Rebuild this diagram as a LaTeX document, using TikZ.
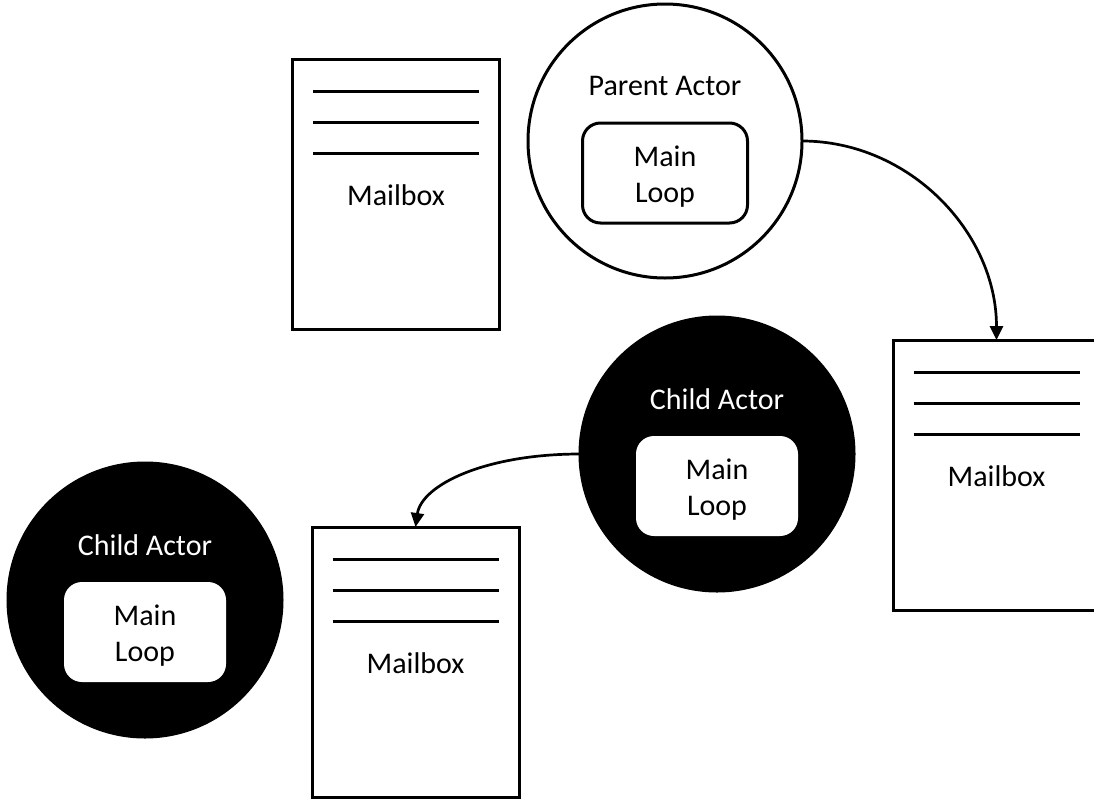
\documentclass[tikz,border=0pt]{standalone}
\usepackage{fontspec}
\setmainfont{Carlito}
\usetikzlibrary{arrows.meta,calc}
\begin{document}
\begin{tikzpicture}[x=1pt,y=-1pt,
  mailbox/.style={draw,line width=3pt,fill=white,minimum width=207pt,minimum height=270pt,inner sep=0pt,outer sep=0pt},
  actor/.style={circle,line width=3pt,minimum size=274pt,inner sep=0pt,outer sep=0pt},
  parentactor/.style={actor,draw,fill=white},
  childactor/.style={actor,draw,fill=black},
  txt/.style={font=\fontsize{30}{36}\selectfont,inner sep=0pt},
  loopbox/.style={rounded corners=18pt,minimum height=100pt,inner sep=0pt},
  parentloop/.style={loopbox,draw,line width=3pt,minimum width=165pt,fill=white},
  childloop/.style={loopbox,fill=white,minimum width=162pt},
  looptext/.style={txt,align=center},
  msg/.style={line width=2.7pt,-{Triangle[length=14pt,width=13pt]}},
  rule/.style={line width=3pt}
]
\useasboundingbox (0,0) rectangle (1094,798);
\clip (0,0) rectangle (1094,798);

% mailboxes: a page with three ruled lines and a caption
\node[mailbox] (mb1) at (396,194.5) {};
\node[mailbox] (mb2) at (996.5,475) {};
\node[mailbox] (mb3) at (415.5,662) {};
\foreach \m in {mb1,mb2,mb3}{
  \foreach \d in {32,63,94}
    \draw[rule] ($(\m.north)+(-83,\d)$) -- ($(\m.north)+(83,\d)$);
}
\node[txt,anchor=base] (mb1t) at ($(mb1.north)+(0,146)$) {Mailbox};
\node[txt,anchor=base] (mb2t) at ($(mb2.north)+(0,146)$) {Mailbox};
\node[txt,anchor=base] (mb3t) at ($(mb3.north)+(0,146)$) {Mailbox};

% parent actor
\node[parentactor] (pa) at (665,141) {};
\node[txt,anchor=base] (pat) at ($(pa.center)+(0,-46)$) {Parent Actor};
\node[parentloop] (pal) at ($(pa.center)+(0,32)$) {};
\node[looptext] (palt) at ($(pal.center)+(0,4)$) {Main\\Loop};

% child actors
\node[childactor] (c1) at (717,454) {};
\node[txt,anchor=base,text=white] (c1t) at ($(c1.center)+(0,-45)$) {Child Actor};
\node[childloop] (c1l) at ($(c1.center)+(0,32)$) {};
\node[looptext] (c1lt) at ($(c1l.center)+(0,4)$) {Main\\Loop};

\node[childactor] (c2) at (145,600) {};
\node[txt,anchor=base,text=white] (c2t) at ($(c2.center)+(0,-45)$) {Child Actor};
\node[childloop] (c2l) at ($(c2.center)+(0,32)$) {};
\node[looptext] (c2lt) at ($(c2l.center)+(0,4)$) {Main\\Loop};

% messages
\draw[msg] (pa.east) .. controls +(107,0) and +(0,-108) .. (mb2.north);
\draw[msg] (c1.west) .. controls +(-95,0) and +(6,-42) .. (mb3.north);
\end{tikzpicture}
\end{document}
